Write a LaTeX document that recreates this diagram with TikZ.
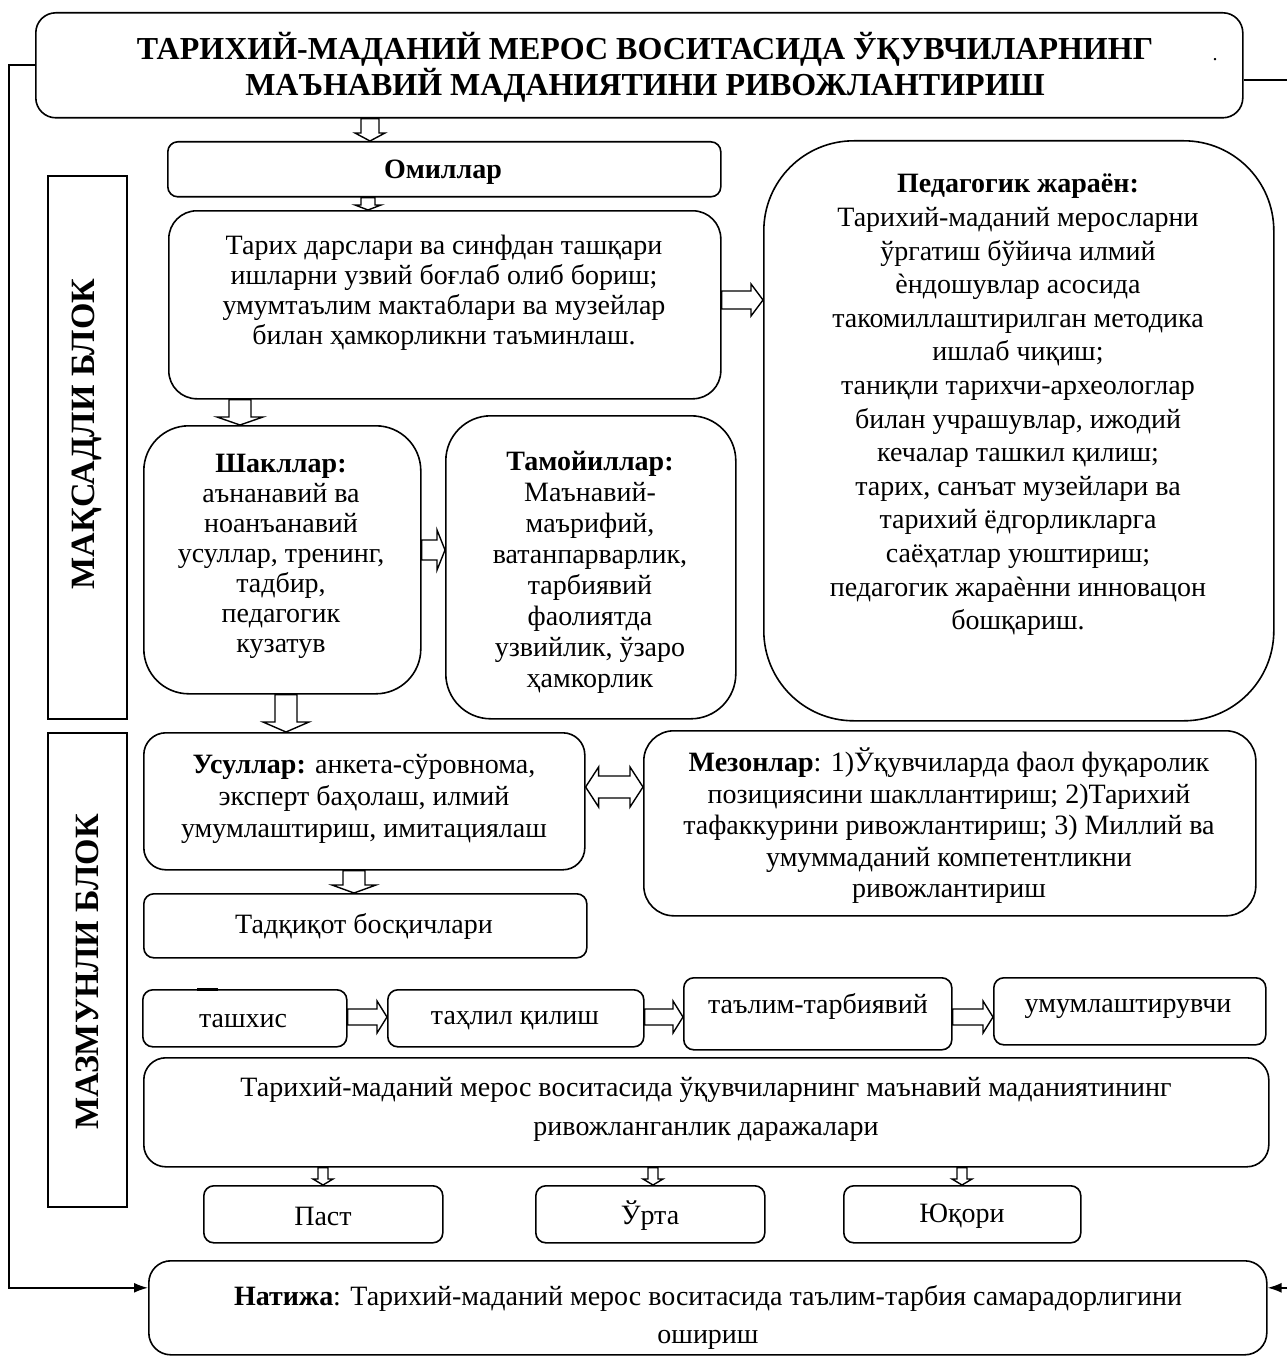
\documentclass[tikz,border=0pt]{standalone}
\usepackage{fontspec}
\setmainfont{Liberation Serif}
\usetikzlibrary{calc,arrows.meta}
\newcommand\varrow[6]{%
 \path[barrow] let \p1=(#2),\p2=(#3),\p3=(#1,0) in (\x3-#4,\y1) -- (\x3-#4,\y2+#6) -- (\x3-#5,\y2+#6) -- (\x3,\y2) -- (\x3+#5,\y2+#6) -- (\x3+#4,\y2+#6) -- (\x3+#4,\y1) -- cycle;}
\newcommand\harrow[6]{%
 \path[barrow] let \p1=(#2),\p2=(#3),\p3=(0,#1) in (\x1,\y3+#4) -- (\x2-#6,\y3+#4) -- (\x2-#6,\y3+#5) -- (\x2,\y3) -- (\x2-#6,\y3-#5) -- (\x2-#6,\y3-#4) -- (\x1,\y3-#4) -- cycle;}
\newcommand\dharrow[6]{%
 \path[barrow] let \p1=(#2),\p2=(#3),\p3=(0,#1) in (\x1,\y3) -- (\x1+#6,\y3+#5) -- (\x1+#6,\y3+#4) -- (\x2-#6,\y3+#4) -- (\x2-#6,\y3+#5) -- (\x2,\y3) -- (\x2-#6,\y3-#5) -- (\x2-#6,\y3-#4) -- (\x1+#6,\y3-#4) -- (\x1+#6,\y3-#5) -- cycle;}
\begin{document}
\begin{tikzpicture}[x=1pt,y=-1pt,
 box/.style={draw,line width=1.6pt,rounded corners=#1,inner sep=0pt,anchor=north west},
 box/.default=10pt,
 sbox/.style={draw,line width=1.8pt,inner sep=0pt,anchor=north west},
 txt/.style={align=center,inner sep=0pt,font=\fontsize{28}{32}\selectfont},
 barrow/.style={draw,line width=1.4pt,fill=white,line join=miter},
 conn/.style={line width=1.6pt},
 vlabel/.style={rotate=90,inner sep=0pt,font=\bfseries\fontsize{34}{40}\selectfont}]
\useasboundingbox (0,0) rectangle (1287,1359);
\fill[white] (0,0) rectangle (1287,1359);

% boxes
\node[box=20pt,minimum width=1207pt,minimum height=105pt] (title) at (35,12) {};
\node[box=10pt,minimum width=553pt,minimum height=55pt] (omil) at (167,141) {};
\node[box=28pt,minimum width=552pt,minimum height=188pt] (tarix) at (168,210) {};
\node[box=90pt,minimum width=510pt,minimum height=580pt] (ped) at (763,140) {};
\node[box=45pt,minimum width=277pt,minimum height=268pt] (shakl) at (143,425) {};
\node[box=45pt,minimum width=290pt,minimum height=303pt] (tamoy) at (445,415) {};
\node[box=22pt,minimum width=441pt,minimum height=137pt] (usul) at (143,732) {};
\node[box=30pt,minimum width=612pt,minimum height=185pt] (mezon) at (643,730) {};
\node[box=10pt,minimum width=443pt,minimum height=64pt] (tadq) at (143,893) {};
\node[box=10pt,minimum width=204pt,minimum height=57pt] (r1) at (142,989) {};
\node[box=10pt,minimum width=256pt,minimum height=57pt] (r2) at (387,989) {};
\node[box=10pt,minimum width=268pt,minimum height=72pt] (r3) at (683,977) {};
\node[box=10pt,minimum width=272pt,minimum height=67pt] (r4) at (993,977) {};
\node[box=22pt,minimum width=1125pt,minimum height=109pt] (level) at (143,1057) {};
\node[box=10pt,minimum width=239pt,minimum height=57pt] (past) at (203,1185) {};
\node[box=10pt,minimum width=229pt,minimum height=57pt] (urta) at (535,1185) {};
\node[box=10pt,minimum width=237pt,minimum height=57pt] (yuq) at (843,1185) {};
\node[box=22pt,minimum width=1118pt,minimum height=94pt] (natija) at (148,1260) {};
\node[sbox,minimum width=79pt,minimum height=543pt] (maks) at (47,175) {};
\node[sbox,minimum width=79pt,minimum height=474pt] (mazm) at (47,732) {};
\draw[line width=3pt] ([xshift=55pt]r1.north west) -- ++(21,0);

% texts
\node[txt,font=\bfseries\fontsize{32}{36}\selectfont] (titlet) at (645,67) {ТАРИХИЙ-МАДАНИЙ МЕРОС ВОСИТАСИДА ЎҚУВЧИЛАРНИНГ\\ МАЪНАВИЙ МАДАНИЯТИНИ РИВОЖЛАНТИРИШ};
\node[txt,font=\fontsize{20}{24}\selectfont] (dot) at (1215,60) {.};
\node[txt,font=\bfseries\fontsize{28}{32}\selectfont] (omilt) at (443,172) {Омиллар};
\node[txt,font=\fontsize{28}{30}\selectfont] (tarixt) at (444,293) {Тарих дарслари ва синфдан ташқари\\ ишларни узвий боғлаб олиб бориш;\\ умумтаълим мактаблари ва музейлар\\ билан ҳамкорликни таъминлаш.};
\node[txt,font=\fontsize{28}{33.6}\selectfont] (pedt) at (1018,405) {\textbf{Педагогик жараён:}\\ Тарихий-маданий меросларни\\ ўргатиш бўйича илмий\\ ѐндошувлар асосида\\ такомиллаштирилган методика\\ ишлаб чиқиш;\\ таниқли тарихчи-археологлар\\ билан учрашувлар, ижодий\\ кечалар ташкил қилиш;\\ тарих, санъат музейлари ва\\ тарихий ёдгорликларга\\ саёҳатлар уюштириш;\\ педагогик жараѐнни инновацон\\ бошқариш.};
\node[txt,font=\fontsize{28}{30}\selectfont] (shaklt) at (281,556) {\textbf{Шакллар:}\\ аънанавий ва\\ ноанъанавий\\ усуллар, тренинг,\\ тадбир,\\ педагогик\\ кузатув};
\node[txt,font=\fontsize{28}{31}\selectfont] (tamoyt) at (590,572) {\textbf{Тамойиллар:}\\ Маънавий-\\ маърифий,\\ ватанпарварлик,\\ тарбиявий\\ фаолиятда\\ узвийлик, ўзаро\\ ҳамкорлик};
\node[txt] (usult) at (364,799) {\textbf{Усуллар:} анкета-сўровнома,\\ эксперт баҳолаш, илмий\\ умумлаштириш, имитациялаш};
\node[txt,font=\fontsize{28}{31.5}\selectfont] (mezont) at (949,826) {\textbf{Мезонлар}: 1)Ўқувчиларда фаол фуқаролик\\ позициясини шакллантириш; 2)Тарихий\\ тафаккурини ривожлантириш; 3) Миллий ва\\ умуммаданий компетентликни\\ ривожлантириш};
\node[txt] (tadqt) at (364,926) {Тадқиқот босқичлари};
\node[txt] (r1t) at (243,1021) {ташхис};
\node[txt] (r2t) at (515,1021) {таҳлил қилиш};
\node[txt] (r3t) at (818,1006) {таълим-тарбиявий};
\node[txt] (r4t) at (1128,1009) {умумлаштирувчи};
\node[txt,font=\fontsize{28}{39}\selectfont] (levelt) at (706,1109) {Тарихий-маданий мерос воситасида ўқувчиларнинг маънавий маданиятининг\\ ривожланганлик даражалари};
\node[txt] (pastt) at (323,1216) {Паст};
\node[txt] (urtat) at (650,1216) {Ўрта};
\node[txt] (yuqt) at (962,1216) {Юқори};
\node[txt,font=\fontsize{28}{38}\selectfont] (natijat) at (708,1317) {\textbf{Натижа}: Тарихий-маданий мерос воситасида таълим-тарбия самарадорлигини\\ ошириш};
\node[vlabel] (makst) at (87,434) {МАҚСАДЛИ БЛОК};
\node[vlabel] (mazmt) at (87,972) {МАЗМУНЛИ БЛОК};

% block arrows
\varrow{370}{title.south}{omil.north}{9pt}{15pt}{8pt}
\varrow{368}{omil.south}{tarix.north}{7pt}{13pt}{5pt}
\harrow{300}{tarix.east}{ped.west}{9pt}{16pt}{12pt}
\varrow{240}{tarix.south}{shakl.north}{11pt}{23pt}{8pt}
\harrow{550}{shakl.east}{tamoy.west}{10pt}{20pt}{8pt}
\varrow{286}{shakl.south}{usul.north}{11pt}{23pt}{10pt}
\dharrow{787}{usul.east}{mezon.west}{11pt}{20pt}{13pt}
\varrow{354}{usul.south}{tadq.north}{11pt}{22pt}{8pt}
\harrow{1017}{r1.east}{r2.west}{8pt}{16pt}{10pt}
\harrow{1017}{r2.east}{r3.west}{8pt}{16pt}{10pt}
\harrow{1017}{r3.east}{r4.west}{8pt}{16pt}{10pt}
\varrow{323}{level.south}{past.north}{5pt}{10pt}{6pt}
\varrow{653}{level.south}{urta.north}{5pt}{10pt}{6pt}
\varrow{962}{level.south}{yuq.north}{5pt}{10pt}{6pt}

% feedback connectors
\coordinate (lc) at (9,0);
\coordinate (rc) at (1287,0);
\draw[conn,-{Latex[length=14pt,width=10pt]}] (title.west) -- (title.west -| lc) |- ([yshift=20pt]natija.west);
\draw[conn] ([yshift=-15pt]title.east) -- ([yshift=-15pt]title.east -| rc);
\draw[conn,-{Latex[length=14pt,width=10pt]}] ([yshift=20pt]natija.east -| rc) -- ([yshift=20pt]natija.east);
\end{tikzpicture}
\end{document}
